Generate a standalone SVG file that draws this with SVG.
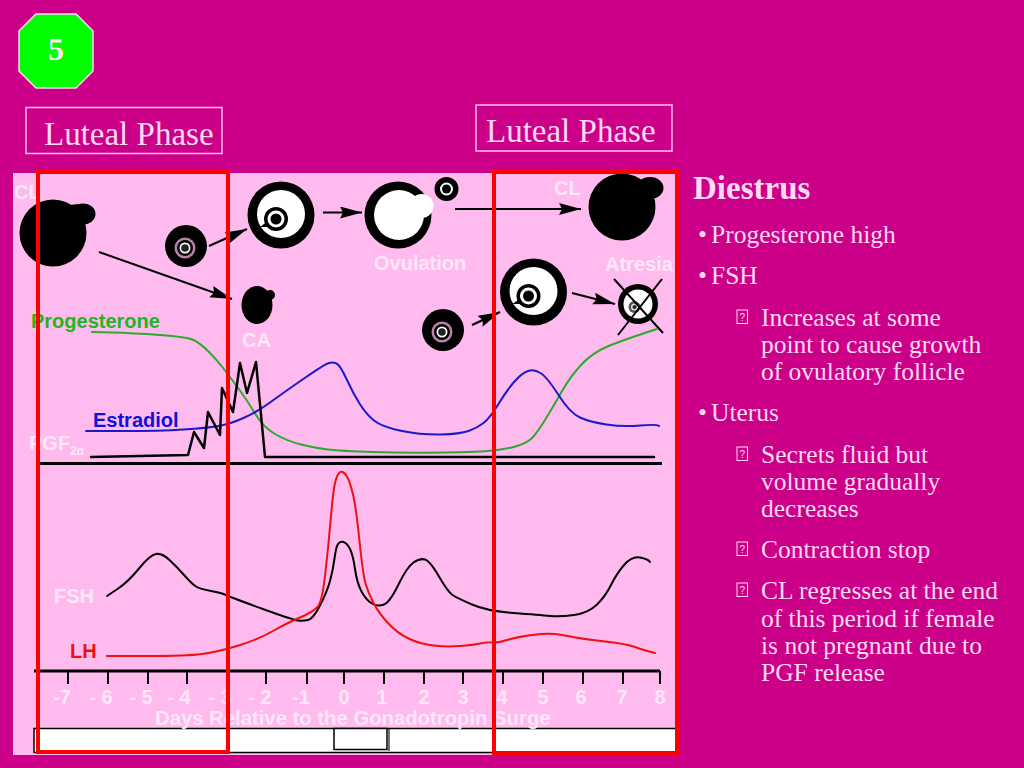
<svg xmlns="http://www.w3.org/2000/svg" width="1024" height="768" viewBox="0 0 1024 768">
<style>
.s{font-family:"Liberation Serif","Times New Roman",serif;fill:#ffd9f5}
.h{font-size:33px}
.b{font-size:25.5px}
.l{font-family:"Liberation Sans",Arial,sans-serif;font-weight:700;font-size:20px}
.w{fill:#ffe6f8}
.t{fill:none;stroke:#000;stroke-width:2;stroke-linejoin:round;stroke-linecap:round}
.ax{stroke:#000;stroke-width:3}
.fr{fill:none;stroke:#ff0000;stroke-width:4}
.ar{stroke:#000;stroke-width:2;fill:none;marker-end:url(#a)}
.box{fill:none;stroke:#ffbbee;stroke-width:1.5}
.tf{fill:none;stroke:#ffd9f5;stroke-width:1}
</style>
<defs>
<marker id="a" markerUnits="userSpaceOnUse" markerWidth="24" markerHeight="14" refX="22" refY="6" orient="auto"><path d="M0 0L22 6L0 12L3 6Z" fill="#000"/></marker>
<g id="f1"><circle r="21" fill="#000"/><circle cx="-1" cy="2" r="10.500" fill="#b884ab"/><circle cx="-1" cy="2" r="8" fill="#000"/><circle cx="-1" cy="2" r="5.500" fill="#fff"/><circle cx="-1" cy="2" r="3.800" fill="#222"/></g>
<g id="f2"><circle r="33.500" fill="#000"/><circle cy="-1" r="24" fill="#fff"/><path d="M-21 12L-9 3L-5 12Z" fill="#000"/><circle cx="-5" cy="4" r="12" fill="#000"/><circle cx="-5" cy="4" r="8.500" fill="#fff"/><circle cx="-5" cy="4" r="5.500" fill="#000"/></g>
<g id="tofu"><rect x="0" y="0" width="10.500" height="13.500" class="tf"/><text x="5.250" y="11" text-anchor="middle" font-family="Liberation Sans,sans-serif" font-size="10" fill="#ffd9f5">?</text></g>
</defs>
<rect width="1024" height="768" fill="#cc0088"/>
<g id="badge"><polygon points="36,14 76,14 93,31 93,71 76,88 36,88 19,71 19,31" fill="#00ff00" stroke="#ffd9f5" stroke-width="1.500"/><text x="56" y="60" text-anchor="middle" font-family="Liberation Serif,serif" font-weight="700" font-size="32" fill="#ffe6f8">5</text></g>
<g id="phase-left"><rect x="26" y="107.500" width="196" height="46" class="box"/><text x="44" y="145" class="s h">Luteal Phase</text></g>
<g id="phase-right"><rect x="476" y="105" width="196" height="46" class="box"/><text x="486" y="142" class="s h">Luteal Phase</text></g>
<g id="panel">
<rect x="13" y="173" width="664" height="582" fill="#ffbbee"/>
<rect x="34" y="728.500" width="643" height="24" fill="#fff" stroke="#000" stroke-width="1.500"/>
<rect x="334" y="728.500" width="53" height="21" fill="#fff" stroke="#000" stroke-width="1.500"/>
<line x1="389" y1="729" x2="389" y2="751" stroke="#444" stroke-width="1.500"/>
</g>
<g id="cl-left"><circle cx="53" cy="233" r="33.500" fill="#000"/><ellipse cx="83" cy="214" rx="12.500" ry="10.500" fill="#000"/><path d="M70 205L78 204L85 225L76 228Z" fill="#000"/></g>
<g id="follicle-1"><use href="#f1" x="186" y="246"/></g>
<g id="follicle-2"><use href="#f2" x="281" y="215"/></g>
<g id="ca"><ellipse cx="257" cy="305" rx="15.500" ry="19" fill="#000"/><circle cx="270" cy="295" r="5" fill="#000"/></g>
<g id="ovulation"><circle cx="398" cy="215" r="33.500" fill="#000"/><circle cx="399" cy="215" r="25" fill="#fff"/><circle cx="421.500" cy="206" r="12" fill="#fff"/></g>
<g id="oocyte"><circle cx="446.500" cy="189" r="12" fill="#000"/><circle cx="446.500" cy="189" r="6.500" fill="#fff"/><circle cx="446.500" cy="189" r="4.500" fill="#000"/></g>
<g id="cl-right"><circle cx="622" cy="207" r="33.500" fill="#000"/><ellipse cx="650" cy="188" rx="13.500" ry="11" fill="#000"/></g>
<g id="follicle-3"><use href="#f1" x="443" y="330"/></g>
<g id="follicle-4"><use href="#f2" x="533.500" y="292"/></g>
<g id="atresia"><circle cx="638" cy="304" r="20" fill="#000"/><circle cx="638" cy="304" r="14.500" fill="#fff"/><circle cx="634.500" cy="307" r="6" fill="#555"/><circle cx="634.500" cy="307" r="3.500" fill="#ddd"/><circle cx="634.500" cy="307" r="2" fill="#222"/><path d="M614 279L663 333M662 279L618 335" stroke="#000" stroke-width="2"/></g>
<g id="connectors">
<path class="ar" d="M209 246L247 229"/>
<path class="ar" d="M99 252L232 299"/>
<path class="ar" d="M323 212.500L362 212.500"/>
<path class="ar" d="M455 209L581 209"/>
<path class="ar" d="M472 325L500 312"/>
<path class="ar" d="M572 293L615 304"/>
</g>
<g id="chart">
<line class="ax" x1="39" y1="463.500" x2="662" y2="463.500"/>
<line class="ax" x1="34" y1="671" x2="660" y2="671"/>
<path stroke="#000" stroke-width="2" d="M68 671V684M108 671V684M148 671V684M187 671V684M227 671V684M266 671V684M307 671V684M344 671V684M384 671V684M424 671V684M463 671V684M503 671V684M543 671V684M583 671V684M623 671V684M660 671V684"/>
<path class="t" style="stroke:#2fa82f" d="M92 332L112 332.500Q133 333 160 335Q187 337 193.500 340Q200 343 208.500 351.500Q217 360 223.500 368.500Q230 377 238.500 388.500Q247 400 255 413.500Q263 427 275 434Q287 441 301 444.500Q315 448 327.500 449.500Q340 451 373.500 452Q407 453 443.500 452.500Q480 452 493.500 450.500Q507 449 517 446Q527 443 532 438Q537 433 545 420Q553 407 561.500 392Q570 377 581 365Q592 353 607.500 346.500Q623 340 657 329"/>
<path class="t" style="stroke:#1a1acc" d="M86 431L123 431Q160 431 183.500 429.500Q207 428 218.500 426Q230 424 243.500 418Q257 412 270 402.500Q283 393 304 378.500Q325 364 329 363Q333 362 336.500 363.500Q340 365 346.500 379Q353 393 359.500 403.500Q366 414 374 420.500Q382 427 402 431Q422 435 441 434.500Q460 434 468.500 431Q477 428 483.500 423Q490 418 498.500 404Q507 390 514.500 381.500Q522 373 528 371Q534 369 540.500 373Q547 377 558.500 395Q570 413 580 417.500Q590 422 606.500 424.500Q623 427 640 425.500Q657 424 659 426"/>
<path class="t" style="stroke-width:2.500" d="M91 457L188 455L194 432L204 448L208 412L220 435L222 388L233 412L240 363L247 393L256 362L265 457L654 457"/>
<path class="t" d="M107 596L117.500 589Q128 582 139 568.500Q150 555 156 554Q162 553 169.500 560Q177 567 184.500 575.500Q192 584 196 586.500Q200 589 211 591Q222 593 226 595Q230 597 261.500 608.500Q293 620 298 620.500Q303 621 308 620Q313 619 320 605.500Q327 592 330 581Q333 570 334.500 558.500Q336 547 338 544Q340 541 343.500 542Q347 543 350 549Q353 555 355 569Q357 583 361.500 591.500Q366 600 372 603.500Q378 607 384 604.500Q390 602 398.500 584.500Q407 567 413.500 562.500Q420 558 425 559.500Q430 561 439 576.500Q448 592 452.500 595Q457 598 472 604.500Q487 611 513.500 613Q540 615 550 616Q560 617 574 615Q588 613 596.500 605Q605 597 611 585Q617 573 624.500 564.500Q632 556 640 557.500Q648 559 650 562"/>
<path class="t" style="stroke:#ee1111" d="M107 656L147 656Q187 656 202 654Q217 652 237 646Q257 640 272 631.500Q287 623 300 617.500Q313 612 317.500 607Q322 602 325 576Q328 550 330.500 521.500Q333 493 334.500 485.500Q336 478 338 474.500Q340 471 342.500 472Q345 473 347.500 477.500Q350 482 353 494.500Q356 507 359.500 541Q363 575 365.500 583.500Q368 592 373 602Q378 612 387.500 622.500Q397 633 408.500 638.500Q420 644 433.500 645.500Q447 647 460 646Q473 645 480 643.500Q487 642 492 642.500Q497 643 507 640Q517 637 532 635Q547 633 555 634Q563 635 573 637Q583 639 605 641.500Q627 644 635 647Q643 650 655 653"/>
</g>
<g id="labels">
<text x="14" y="199" class="l w">CL</text>
<text x="554" y="195" class="l w">CL</text>
<text x="374" y="270" class="l w">Ovulation</text>
<text x="605" y="271" class="l w">Atresia</text>
<text x="242" y="347" class="l w">CA</text>
<text x="31" y="328" class="l" fill="#22b522">Progesterone</text>
<text x="93" y="427" class="l" fill="#1010dd">Estradiol</text>
<text x="29" y="450" class="l w">PGF<tspan font-size="12" dy="5">2α</tspan></text>
<text x="54" y="603" class="l w">FSH</text>
<text x="70" y="658" class="l" fill="#ee1111">LH</text>
<g class="l w" style="font-size:20px;text-anchor:middle">
<text x="62" y="704">-7</text><text x="101" y="704">- 6</text><text x="141" y="704">- 5</text><text x="179" y="704">- 4</text><text x="220" y="704">- 3</text><text x="260" y="704">- 2</text><text x="301" y="704">-1</text><text x="344" y="704">0</text><text x="382" y="704">1</text><text x="424" y="704">2</text><text x="463" y="704">3</text><text x="502" y="704">4</text><text x="543" y="704">5</text><text x="581" y="704">6</text><text x="622" y="704">7</text><text x="660" y="704">8</text>
</g>
<text x="155" y="725" class="l w" style="font-size:20.300px">Days Relative to the Gonadotropin Surge</text>
</g>
<g id="red-frames">
<rect x="38" y="172" width="190" height="580" class="fr"/>
<rect x="494" y="172" width="183" height="581" class="fr"/>
</g>
<g id="notes">
<text x="693" y="199" class="s" font-size="33" font-weight="700" fill="#ffe6f8">Diestrus</text>
<g class="s b">
<text x="698" y="243">•</text><text x="711" y="243">Progesterone high</text>
<text x="698" y="284">•</text><text x="711" y="284">FSH</text>
<text x="761" y="326">Increases at some</text>
<text x="761" y="353">point to cause growth</text>
<text x="761" y="380">of ovulatory follicle</text>
<text x="698" y="421">•</text><text x="711" y="421">Uterus</text>
<text x="761" y="463">Secrets fluid but</text>
<text x="761" y="490">volume gradually</text>
<text x="761" y="517">decreases</text>
<text x="761" y="558">Contraction stop</text>
<text x="761" y="599">CL regresses at the end</text>
<text x="761" y="627">of this period if female</text>
<text x="761" y="654">is not pregnant due to</text>
<text x="761" y="681">PGF release</text>
</g>
<use href="#tofu" x="737" y="310"/><use href="#tofu" x="737" y="447"/><use href="#tofu" x="737" y="542"/><use href="#tofu" x="737" y="583"/>
</g>
</svg>
